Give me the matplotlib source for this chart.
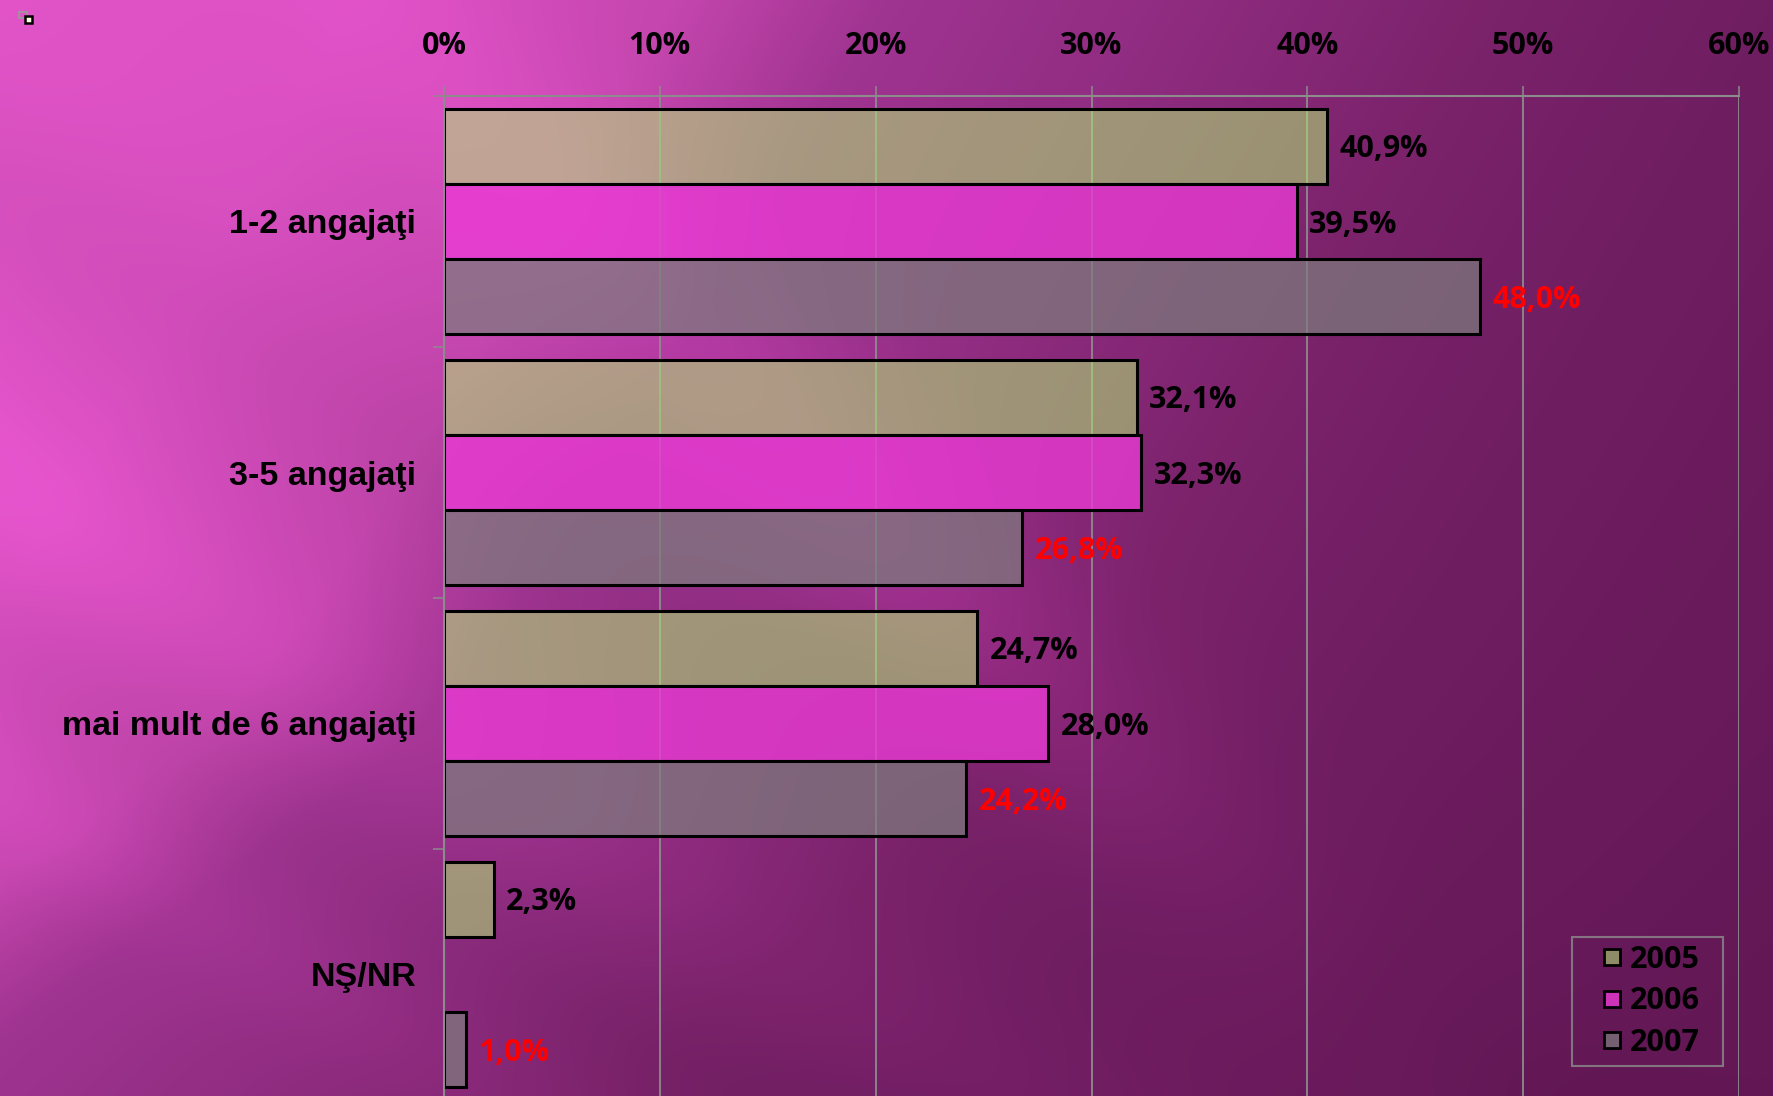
import numpy as np
import matplotlib
matplotlib.use('Agg')
import matplotlib.pyplot as plt
from matplotlib.lines import Line2D
from matplotlib.patches import Rectangle

# ---------------- data ----------------
categories = ['1-2 angajaţi', '3-5 angajaţi', 'mai mult de 6 angajaţi', 'NŞ/NR']
years = ['2005', '2006', '2007']
v2005 = [40.9, 32.1, 24.7, 2.3]
v2006 = [39.5, 32.3, 28.0, np.nan]
v2007 = [48.0, 26.8, 24.2, 1.0]
x_ticks = [0, 10, 20, 30, 40, 50, 60]
x_tick_labels = ['0%', '10%', '20%', '30%', '40%', '50%', '60%']

# ---------------- styling ----------------
W, H, DPI = 1773, 1096, 100
fc2005 = (175 / 255, 235 / 255, 115 / 255, 0.55)
fc2006 = (235 / 255, 59 / 255, 213 / 255, 0.78)
fc2007 = (125 / 255, 125 / 255, 125 / 255, 0.72)
label_colors = ['black', 'black', '#ff0000']
GRID = '#8c8c8c'
NUMFONT = 'Open Sans'
CATFONT = 'Liberation Sans'

fig = plt.figure(figsize=(W / DPI, H / DPI), dpi=DPI)

# background gradient with soft streaks
yy, xx = np.mgrid[0:H, 0:W].astype(float)
xn, yn = xx / W, yy / H
sig = 1.0 / (1.0 + np.exp(-(yn - 0.8) / 0.09))
t = xn + 0.35 * yn + 0.2 * sig * (1 - 0.6 * xn)
tp = [0, 0.2, 0.38, 0.5, 0.65, 0.85, 1.0, 1.15, 1.35, 1.7]
cols = np.array([(226, 84, 200), (218, 80, 194), (196, 70, 174), (160, 52, 145),
                 (145, 45, 130), (122, 34, 106), (112, 30, 98), (106, 27, 92),
                 (100, 24, 86), (96, 22, 82)]) / 255.0
img = np.stack([np.interp(t, tp, cols[:, i]) for i in range(3)], axis=-1)
v1 = yy - xx
mod = 0.15 * np.exp(-0.5 * ((v1 + 350) / 110) ** 2) * np.exp(-((xx - 900) / 450) ** 2)
v2 = yy - 0.6 * xx
for c, s, a in [(480, 70, 0.05), (650, 60, -0.03), (800, 50, 0.04), (200, 80, -0.04)]:
    mod += a * np.exp(-0.5 * ((v2 - c) / s) ** 2)
img = np.clip(img * (1 + mod[..., None]), 0, 1)
bg = fig.add_axes([0, 0, 1, 1], zorder=0)
bg.imshow(img, aspect='auto', extent=(0, 1, 0, 1), interpolation='bilinear')
bg.set_axis_off()

# small icon top-left
fig.patches.append(Rectangle((19 / W, 1 - 18 / H), 8 / W, 6 / H, transform=fig.transFigure,
                             facecolor='none', edgecolor='#9a9a9a', lw=1.2, zorder=5))
fig.patches.append(Rectangle((25 / W, 1 - 23 / H), 7 / W, 7 / H, transform=fig.transFigure,
                             facecolor='#fffbe0', edgecolor='black', lw=1.8, zorder=6))

# main axes
left, right = 444 / W, 1739 / W
top, bottom = 1 - 96 / H, 1 - 1100 / H
ax = fig.add_axes([left, bottom, right - left, top - bottom], zorder=1)
ax.set_facecolor('none')

ypos = np.arange(len(categories))
h = 0.3
series = [v2005, v2006, v2007]
fcs = [fc2005, fc2006, fc2007]

def fmt(v):
    return ('%.1f' % v).replace('.', ',') + '%'

for i, (vals, fc) in enumerate(zip(series, fcs)):
    pos = ypos + (i - 1) * h
    pv = [(p, v) for p, v in zip(pos, vals) if not np.isnan(v)]
    ax.barh([p for p, _ in pv], [v for _, v in pv], height=h, color=fc,
            edgecolor='black', linewidth=2.2, zorder=2)
    for p, v in pv:
        ax.annotate(fmt(v), xy=(v, p), xytext=(9, -8), textcoords='offset points',
                    ha='left', va='baseline', color=label_colors[i], fontsize=22,
                    fontweight='bold', fontfamily=NUMFONT, zorder=4)

ax.set_xlim(0, 60)
ax.set_ylim(len(categories) - 0.5, -0.5)

ax.xaxis.tick_top()
ax.set_xticks(x_ticks)
ax.set_xticklabels(x_tick_labels, fontfamily=NUMFONT, fontweight='bold', fontsize=22)
ax.tick_params(axis='x', which='major', direction='out', length=7.2, width=1.1,
               color=GRID, pad=18, labelcolor='black')

ax.set_yticks(np.arange(len(categories) + 1) - 0.5)
ax.set_yticklabels([])
ax.set_yticks(ypos, minor=True)
ax.set_yticklabels(categories, minor=True, fontfamily=CATFONT, fontweight='bold', fontsize=24.5)
ax.tick_params(axis='y', which='major', direction='out', length=8, width=1.1, color=GRID)
ax.tick_params(axis='y', which='minor', length=0, pad=20, labelcolor='black')

ax.grid(axis='x', color=GRID, lw=1.3)
ax.set_axisbelow(True)
for s in ['right', 'bottom']:
    ax.spines[s].set_visible(False)
for s in ['top', 'left']:
    ax.spines[s].set_color(GRID)
    ax.spines[s].set_linewidth(1.5)

handles = [Line2D([], [], ls='none', marker='s', markersize=12, markerfacecolor=fc,
                  markeredgecolor='black', markeredgewidth=2) for fc in fcs]
leg = ax.legend(handles, years, loc='upper left',
                bbox_to_anchor=(1572 / W, 1 - 1064 / H, 151 / W, 127 / H),
                bbox_transform=fig.transFigure, mode='expand', borderaxespad=0,
                frameon=True, fancybox=False, edgecolor=GRID, facecolor='none',
                prop=dict(family=NUMFONT, weight='bold', size=22),
                handlelength=2.09, handletextpad=-0.44, borderpad=0.25, labelspacing=0.385)
leg.get_frame().set_linewidth(1.5)

fig.savefig('out.png', dpi=DPI)
